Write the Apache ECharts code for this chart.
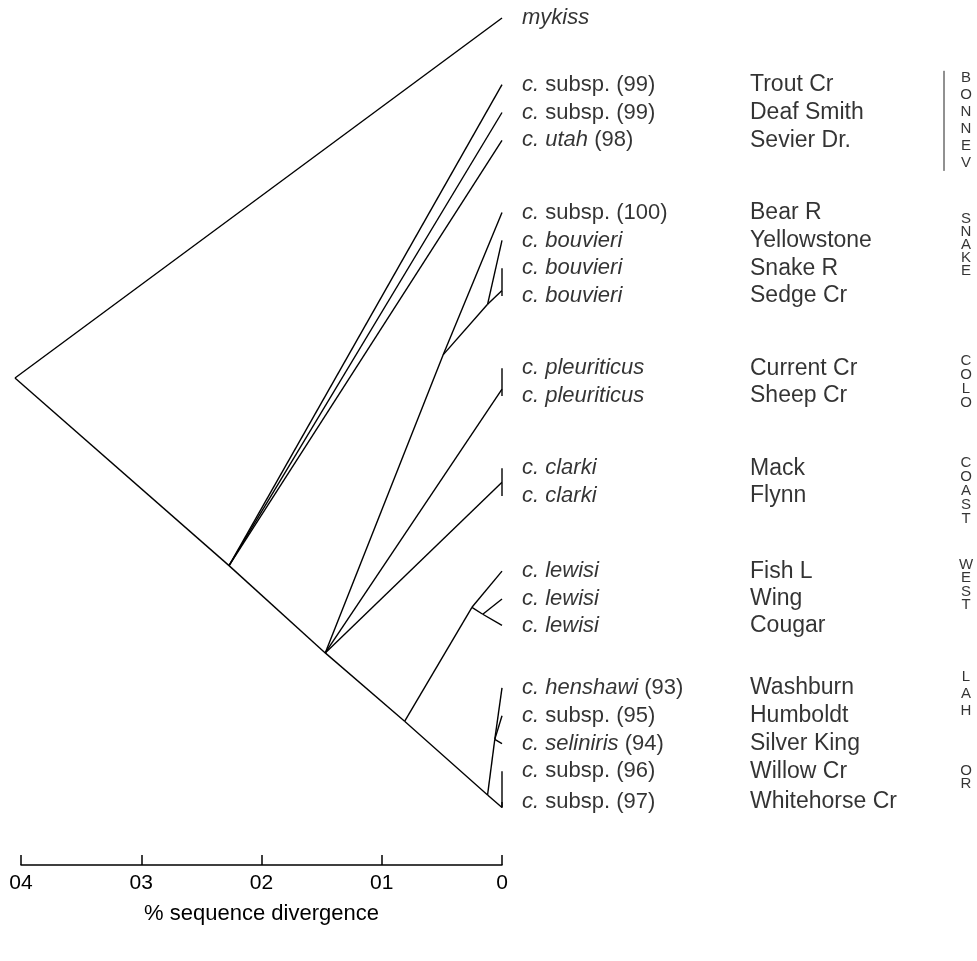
<!DOCTYPE html>
<html><head><meta charset="utf-8">
<script src="https://cdn.jsdelivr.net/npm/echarts@6/dist/echarts.min.js"></script>
<style>html,body{margin:0;padding:0;background:#fff}#c{width:977px;height:961px}</style>
</head><body><div id="c"></div>
<script>
// ---- leaves (tips, all at 0 divergence) ----
const leafIds = ['mykiss','Trout Cr','Deaf Smith','Sevier Dr.','Bear R','Yellowstone','Snake R','Sedge Cr','Current Cr','Sheep Cr','Mack','Flynn','Fish L','Wing','Cougar','Washburn','Humboldt','Silver King','Willow Cr','Whitehorse Cr'];
const taxonItalic = ['mykiss','c.','c.','c. utah','c.','c. bouvieri','c. bouvieri','c. bouvieri','c. pleuriticus','c. pleuriticus','c. clarki','c. clarki','c. lewisi','c. lewisi','c. lewisi','c. henshawi','c.','c. seliniris','c.','c.'];
const taxonPlain = ['',' subsp. (99)',' subsp. (99)',' (98)',' subsp. (100)','','','','','','','','','','',' (93)',' subsp. (95)',' (94)',' subsp. (96)',' subsp. (97)'];
const locations = ['','Trout Cr','Deaf Smith','Sevier Dr.','Bear R','Yellowstone','Snake R','Sedge Cr','Current Cr','Sheep Cr','Mack','Flynn','Fish L','Wing','Cougar','Washburn','Humboldt','Silver King','Willow Cr','Whitehorse Cr'];
const leafRows = [0, 2.4, 3.4, 4.4, 7.0, 8.0, 9.0, 10.0, 12.6, 13.6, 16.2, 17.2, 19.9, 20.9, 21.85, 24.1, 25.1, 26.1, 27.1, 28.2];

// ---- internal nodes (divergence, row) ----
const nodeIds = ['root','bonn','n2','snakeA','snakeB','snakeSS','colo','coast','n3','lew1','lew2','nLO','lah','or'];
const nodeDiv = [4.05, 2.27, 1.47, 0.49, 0.12, 0, 0, 0, 0.81, 0.25, 0.16, 0.12, 0.06, 0];
const nodeRow = [12.95, 19.7, 22.84, 12.12, 10.3, 9.8, 13.35, 16.7, 25.3, 21.2, 21.45, 27.95, 25.95, 28.4];

// ---- branches parent -> child ----
const edgeParent = ['root','root','bonn','bonn','bonn','bonn','n2','snakeA','snakeA','snakeB','snakeB','snakeSS','snakeSS','n2','colo','colo','n2','coast','coast','n2','n3','lew1','lew1','lew2','lew2','n3','nLO','lah','lah','lah','nLO','or','or'];
const edgeChild = ['mykiss','bonn','Trout Cr','Deaf Smith','Sevier Dr.','n2','snakeA','Bear R','snakeB','Yellowstone','snakeSS','Snake R','Sedge Cr','colo','Current Cr','Sheep Cr','coast','Mack','Flynn','n3','lew1','Fish L','lew2','Wing','Cougar','nLO','lah','Washburn','Humboldt','Silver King','or','Willow Cr','Whitehorse Cr'];

// ---- axis ----
const tickLabels = ['0','01','02','03','04'];
const axisTitle = '% sequence divergence';

// ---- group labels ----
const groupNames = ['BONNEV','SNAKE','COLO','COAST','WEST','LAH','OR'];
const groupRows = [3.7, 8.15, 13.1, 17.0, 20.4, 24.3, 27.3];
const bracketRows = [[1.9, 5.5]];
// letter pitch per group label (style)
const groupLineHeights = [17, 13, 14, 14, 13.5, 17, 13];

function pos(id){
  let i = nodeIds.indexOf(id);
  if (i >= 0) return [nodeDiv[i], nodeRow[i]];
  i = leafIds.indexOf(id);
  return [0, leafRows[i]];
}
const edgeData = edgeParent.map((p, i) => { const a = pos(p), b = pos(edgeChild[i]); return [a[0], a[1], b[0], b[1]]; });

const FONT = 'Liberation Sans';
const chart = echarts.init(document.getElementById('c'));
chart.setOption({
  backgroundColor: '#fff',
  animation: false,
  grid: { left: 21, right: 475, top: 18, bottom: 96 },
  xAxis: {
    type: 'value', min: 0, max: 4, interval: 1, inverse: true, position: 'bottom',
    axisLine: { onZero: false, lineStyle: { color: '#000', width: 1.5 } },
    axisTick: { inside: true, length: 10, lineStyle: { color: '#000', width: 1.5 } },
    axisLabel: { formatter: v => tickLabels[v], color: '#000', fontSize: 21, fontFamily: FONT, margin: 8 },
    splitLine: { show: false },
    name: axisTitle, nameLocation: 'middle', nameGap: 38,
    nameTextStyle: { color: '#000', fontSize: 22, fontFamily: FONT }
  },
  yAxis: { type: 'value', min: 0, max: 30.47, inverse: true, show: false },
  series: [
    {
      type: 'custom', clip: false, silent: true,
      data: edgeData,
      encode: { x: [0, 2], y: [1, 3] },
      renderItem: (params, api) => {
        const p1 = api.coord([api.value(0), api.value(1)]);
        const p2 = api.coord([api.value(2), api.value(3)]);
        return { type: 'line', shape: { x1: p1[0], y1: p1[1], x2: p2[0], y2: p2[1] }, style: { stroke: '#000', lineWidth: 1.4 } };
      }
    },
    {
      type: 'custom', clip: false, silent: true,
      data: bracketRows,
      encode: { y: [0, 1] },
      renderItem: (params, api) => {
        const p1 = api.coord([0, api.value(0)]);
        const p2 = api.coord([0, api.value(1)]);
        return { type: 'line', shape: { x1: p1[0] + 442, y1: p1[1], x2: p2[0] + 442, y2: p2[1] }, style: { stroke: '#222', lineWidth: 1 } };
      }
    },
    {
      type: 'scatter', symbolSize: 0, silent: true,
      data: leafRows.map((r, i) => ({ value: [0, r], name: String(i) })),
      label: {
        show: true, position: [20, 0], align: 'left', verticalAlign: 'middle',
        formatter: p => { const i = +p.name; return '{i|' + taxonItalic[i] + '}' + (taxonPlain[i] ? '{n|' + taxonPlain[i] + '}' : ''); },
        rich: {
          i: { fontStyle: 'italic', fontSize: 22, fontFamily: FONT, color: '#000' },
          n: { fontSize: 22, fontFamily: FONT, color: '#000' }
        }
      }
    },
    {
      type: 'scatter', symbolSize: 0, silent: true,
      data: leafRows.map((r, i) => ({ value: [0, r], name: locations[i] })),
      label: { show: true, position: [248, 0], align: 'left', verticalAlign: 'middle', formatter: '{b}', fontSize: 23, fontFamily: FONT, color: '#000' }
    },
    {
      type: 'scatter', symbolSize: 0, silent: true,
      data: groupRows.map((r, i) => ({ value: [0, r], name: groupNames[i], label: { lineHeight: groupLineHeights[i] } })),
      label: { show: true, position: [464, 0], align: 'center', verticalAlign: 'middle', fontSize: 15, fontFamily: FONT, color: '#000',
        formatter: p => p.name.split('').join('\n') }
    }
  ]
});
</script></body></html>
